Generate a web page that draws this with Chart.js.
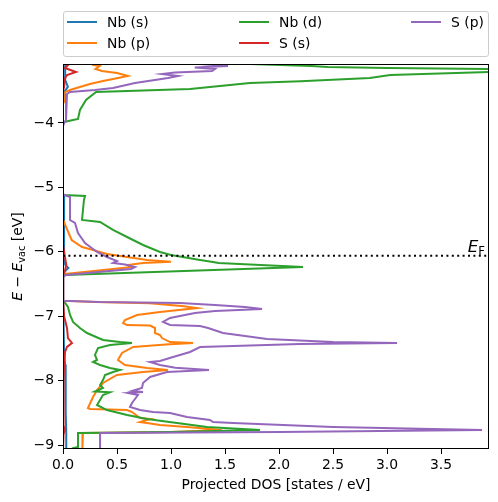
<!DOCTYPE html>
<html>
<head>
<meta charset="utf-8">
<script src="https://cdn.jsdelivr.net/npm/chart.js@4.4.0/dist/chart.umd.min.js"></script>
<style>
  body { margin: 0; background: #fff; }
  #wrap { position: relative; width: 498px; height: 502px; }
  #legend {
    position: absolute; left: 63px; top: 11px; width: 424px; height: 44px;
    border: 1px solid #cccccc; border-radius: 3px; background: rgba(255,255,255,0.8);
    font-family: "DejaVu Sans"; font-size: 13.9px; color: #000;
  }
  .item { position: absolute; height: 18px; width: 160px; }
  .item .line { position: absolute; left: 0; top: 8px; width: 30px; height: 2px; }
  .item .txt { position: absolute; left: 40px; top: 0; line-height: 18px; white-space: nowrap; }
</style>
</head>
<body>
<div id="wrap">
  <canvas id="myChart" width="498" height="502"></canvas>
  <div id="legend"></div>
</div>
<script>
// axis ranges and ticks
const xMax = 3.944, yMin = -9.062, yMax = -3.084;
const eFermi = -6.06;
const xTicks = [0, 0.5, 1, 1.5, 2, 2.5, 3, 3.5];
const yTicks = [-9, -8, -7, -6, -5, -4];

const seriesNames = ["Nb (s)", "Nb (p)", "Nb (d)", "S (s)", "S (p)"];
const seriesColors = ["#1f77b4", "#ff7f0e", "#2ca02c", "#d62728", "#9467bd"];

// projected DOS, pairs of [energy (eV), dos], energy going down
const nbS = [
  [-3.0, 0.02], [-3.084, 0.02], [-3.33, 0.02], [-3.44, 0.045], [-3.52, 0.01], [-3.7, 0.0],
  [-5.10, 0.0], [-5.13, 0.01], [-6.10, 0.01], [-6.2, 0.02], [-6.25, 0.05], [-6.3, 0.02], [-6.36, 0.0],
  [-6.76, 0.0], [-6.78, 0.005], [-7.6, 0.01], [-7.75, 0.02], [-8.0, 0.025], [-8.5, 0.025],
  [-8.8, 0.03], [-9.1, 0.03]
];
const nbP = [
  [-3.0, 0.30], [-3.099, 0.28], [-3.115, 0.34], [-3.161, 0.30], [-3.193, 0.36], [-3.224, 0.50],
  [-3.27, 0.60], [-3.301, 0.51], [-3.348, 0.37], [-3.395, 0.25], [-3.441, 0.157], [-3.488, 0.065],
  [-3.52, 0.02], [-3.64, 0.02], [-3.70, 0.0],
  [-5.50, 0.0], [-5.66, 0.04], [-5.817, 0.08], [-5.925, 0.176], [-5.972, 0.278], [-6.034, 0.407],
  [-6.081, 0.593], [-6.127, 0.778], [-6.155, 1.0], [-6.174, 0.74], [-6.205, 0.60], [-6.236, 0.64],
  [-6.25, 0.55], [-6.345, 0.02], [-6.39, 0.0],
  [-6.76, 0.0], [-6.78, 0.3], [-6.80, 0.8], [-6.84, 1.1], [-6.873, 1.241], [-6.935, 0.898],
  [-6.981, 0.685], [-7.059, 0.574], [-7.106, 0.556], [-7.137, 0.593], [-7.145, 0.806], [-7.183, 0.852],
  [-7.261, 0.852], [-7.292, 0.898], [-7.339, 0.917], [-7.401, 0.991], [-7.416, 1.204], [-7.44, 0.95],
  [-7.478, 0.65], [-7.571, 0.546], [-7.68, 0.509], [-7.758, 0.574], [-7.804, 0.778], [-7.835, 0.972],
  [-7.866, 0.741], [-7.913, 0.50], [-8.037, 0.370], [-8.146, 0.315], [-8.255, 0.278], [-8.425, 0.231],
  [-8.441, 0.25], [-8.457, 0.593], [-8.488, 0.639], [-8.581, 0.713], [-8.596, 0.806], [-8.643, 0.713],
  [-8.658, 0.778], [-8.689, 0.898], [-8.72, 1.148], [-8.767, 1.47], [-8.798, 1.0], [-8.814, 0.185],
  [-9.03, 0.18], [-9.1, 0.17]
];
const nbD = [
  [-3.0, 1.2], [-3.084, 1.73], [-3.115, 2.3], [-3.13, 2.45], [-3.146, 3.0], [-3.161, 3.944],
  [-3.185, 4.6], [-3.208, 3.944], [-3.255, 3.03], [-3.30, 2.84], [-3.35, 2.2], [-3.379, 1.731],
  [-3.472, 1.176], [-3.519, 0.306], [-3.643, 0.213], [-3.798, 0.157], [-3.938, 0.139], [-3.984, 0.01],
  [-4.03, 0.0],
  [-5.10, 0.0], [-5.118, 0.01], [-5.134, 0.204], [-5.196, 0.194], [-5.506, 0.176], [-5.537, 0.343],
  [-5.661, 0.463], [-5.77, 0.593], [-5.894, 0.741], [-6.003, 0.898], [-6.05, 1.0], [-6.127, 1.269],
  [-6.158, 1.389], [-6.174, 1.44], [-6.236, 2.222], [-6.36, 0.02], [-6.39, 0.0],
  [-6.76, 0.0], [-6.795, 0.02], [-6.857, 0.046], [-6.981, 0.065], [-7.09, 0.093], [-7.183, 0.157],
  [-7.261, 0.222], [-7.37, 0.37], [-7.401, 0.528], [-7.416, 0.639], [-7.447, 0.435], [-7.494, 0.324],
  [-7.602, 0.296], [-7.68, 0.315], [-7.711, 0.278], [-7.758, 0.343], [-7.804, 0.435], [-7.835, 0.528],
  [-7.866, 0.463], [-7.913, 0.389], [-7.991, 0.37], [-8.068, 0.343], [-8.115, 0.37], [-8.17, 0.296],
  [-8.18, 0.435], [-8.224, 0.37], [-8.301, 0.343], [-8.379, 0.315], [-8.457, 0.407], [-8.534, 0.593],
  [-8.596, 0.778], [-8.658, 1.056], [-8.72, 1.333], [-8.767, 1.824], [-8.798, 1.0], [-8.814, 0.139],
  [-9.031, 0.139], [-9.05, 0.09], [-9.1, 0.09]
];
const sS = [
  [-3.0, 0.02], [-3.099, 0.046], [-3.146, 0.019], [-3.208, 0.12], [-3.255, 0.037], [-3.301, 0.02],
  [-3.44, 0.01], [-3.5, 0.0],
  [-5.9, 0.0], [-6.0, 0.01], [-6.1, 0.02], [-6.2, 0.03], [-6.28, 0.02], [-6.36, 0.0],
  [-6.76, 0.0], [-6.8, 0.005], [-7.0, 0.01], [-7.183, 0.037], [-7.339, 0.046], [-7.416, 0.083],
  [-7.478, 0.037], [-7.556, 0.019], [-7.76, 0.01], [-8.0, 0.005], [-8.7, 0.005], [-8.767, 0.02],
  [-8.83, 0.005], [-9.1, 0.0]
];
const sP = [
  [-3.0, 1.25], [-3.084, 1.27], [-3.115, 1.528], [-3.138, 1.22], [-3.161, 1.407], [-3.193, 1.38],
  [-3.216, 1.037], [-3.239, 0.917], [-3.27, 1.065], [-3.301, 0.972], [-3.379, 0.667], [-3.457, 0.463],
  [-3.488, 0.296], [-3.519, 0.065], [-3.55, 0.037], [-3.953, 0.028], [-4.0, 0.01], [-4.05, 0.0],
  [-5.10, 0.0], [-5.118, 0.01], [-5.149, 0.065], [-5.506, 0.065], [-5.553, 0.111], [-5.708, 0.139],
  [-5.863, 0.204], [-6.003, 0.315], [-6.081, 0.407], [-6.143, 0.50], [-6.174, 0.463], [-6.197, 0.574],
  [-6.236, 0.667], [-6.267, 0.63], [-6.36, 0.03], [-6.39, 0.0],
  [-6.76, 0.0], [-6.78, 0.34], [-6.795, 1.083], [-6.826, 1.407], [-6.857, 1.685], [-6.888, 1.843],
  [-6.919, 1.407], [-6.95, 1.222], [-7.028, 0.991], [-7.09, 0.926], [-7.137, 0.991], [-7.152, 1.269],
  [-7.183, 1.343], [-7.261, 1.481], [-7.354, 1.889], [-7.401, 2.5], [-7.416, 3.093], [-7.432, 2.194],
  [-7.478, 1.269], [-7.556, 1.176], [-7.634, 1.019], [-7.696, 0.898], [-7.711, 0.806], [-7.758, 0.898],
  [-7.80, 1.04], [-7.835, 1.352], [-7.866, 0.963], [-7.944, 0.806], [-8.037, 0.741], [-8.115, 0.731],
  [-8.161, 0.639], [-8.177, 0.741], [-8.193, 0.602], [-8.224, 0.694], [-8.348, 0.639], [-8.41, 0.62],
  [-8.457, 0.713], [-8.488, 0.833], [-8.503, 0.991], [-8.565, 1.148], [-8.612, 1.361], [-8.643, 1.389],
  [-8.658, 1.574], [-8.72, 2.5], [-8.767, 3.88], [-8.798, 2.0], [-8.814, 0.343], [-9.1, 0.343]
];

const allSeries = [nbS, nbP, nbD, sS, sP];
const FONT = "DejaVu Sans";

let datasets = allSeries.map((s, i) => ({
  label: seriesNames[i],
  data: s.map(p => ({ x: p[1], y: p[0] })),
  borderColor: seriesColors[i],
  borderWidth: 2,
  showLine: true,
  pointRadius: 0,
  tension: 0,
  clip: 0,
  order: 10 - i
}));
datasets.push({
  label: "EF",
  data: [{ x: 0, y: eFermi }, { x: xMax, y: eFermi }],
  borderColor: "#000",
  borderWidth: 2,
  borderDash: [2, 3.4],
  showLine: true,
  pointRadius: 0,
  order: 0
});

// text pieces drawn in a row, used for the math labels
drawPieces = (ctx, pieces, x, y) => {
  let cx = x;
  pieces.forEach(p => {
    ctx.font = p.font;
    ctx.fillText(p.t, cx, y + (p.dy || 0));
    cx += ctx.measureText(p.t).width;
  });
};
piecesWidth = (ctx, pieces) => {
  let w = 0;
  pieces.forEach(p => { ctx.font = p.font; w += ctx.measureText(p.t).width; });
  return w;
};

const framePlugin = {
  id: "frame",
  afterDraw: (chart) => {
    const ctx = chart.ctx;
    const a = chart.chartArea;
    ctx.save();
    ctx.strokeStyle = "#000";
    ctx.lineWidth = 1;
    ctx.strokeRect(a.left + 0.5, a.top + 0.5, a.right - a.left - 1, a.bottom - a.top - 1);

    ctx.fillStyle = "#000";
    ctx.textBaseline = "alphabetic";
    // x label
    ctx.font = "13.9px " + FONT;
    ctx.textAlign = "center";
    ctx.fillText("Projected DOS [states / eV]", (a.left + a.right) / 2, 489);

    // y label
    ctx.textAlign = "left";
    const yl = [
      { t: "E", font: "italic 13.9px " + FONT },
      { t: " \u2212 ", font: "13.9px " + FONT },
      { t: "E", font: "italic 13.9px " + FONT },
      { t: "vac", font: "9.7px " + FONT, dy: 3 },
      { t: " [eV]", font: "13.9px " + FONT }
    ];
    const w = piecesWidth(ctx, yl);
    ctx.translate(22, (a.top + a.bottom) / 2);
    ctx.rotate(-Math.PI / 2);
    drawPieces(ctx, yl, -w / 2, 0);
    ctx.restore();

    // Fermi level label
    ctx.save();
    ctx.fillStyle = "#000";
    const ef = [
      { t: "E", font: "italic 16.7px " + FONT },
      { t: "F", font: "11.7px " + FONT, dy: 3 }
    ];
    const yEF = chart.scales.y.getPixelForValue(eFermi);
    drawPieces(ctx, ef, a.right - 4 - piecesWidth(ctx, ef), yEF - 4);
    ctx.restore();
  }
};

const ctx = document.getElementById("myChart").getContext("2d");
const chart = new Chart(ctx, {
  type: "scatter",
  data: { datasets: datasets },
  plugins: [framePlugin],
  options: {
    responsive: false,
    animation: false,
    devicePixelRatio: 1,
    events: [],
    layout: { padding: { top: 64, right: 9, left: 0, bottom: 0 } },
    plugins: { legend: { display: false }, tooltip: { enabled: false } },
    scales: {
      x: {
        type: "linear", min: 0, max: xMax,
        afterBuildTicks: (s) => { s.ticks = xTicks.map(v => ({ value: v })); },
        afterFit: (s) => { s.height = 53; },
        ticks: {
          callback: (v) => v.toFixed(1), color: "#000", padding: 3,
          autoSkip: false, maxRotation: 0, font: { family: FONT, size: 13.9 }
        },
        grid: { drawOnChartArea: false, tickLength: 5, color: "#000", lineWidth: 1 },
        border: { display: false }
      },
      y: {
        type: "linear", min: yMin, max: yMax,
        afterBuildTicks: (s) => { s.ticks = yTicks.map(v => ({ value: v })); },
        afterFit: (s) => { s.width = 63; },
        ticks: {
          callback: (v) => (v < 0 ? "\u2212" : "") + Math.abs(v), color: "#000", padding: 4,
          autoSkip: false, font: { family: FONT, size: 13.9 }
        },
        grid: { drawOnChartArea: false, tickLength: 5, color: "#000", lineWidth: 1 },
        border: { display: false }
      }
    }
  }
});

// legend, matplotlib style: 3 columns filled column by column
const legendBox = document.getElementById("legend");
const colLeft = [3, 175, 347];
const rowTop = [1, 22];
seriesNames.forEach((name, i) => {
  const col = Math.floor(i / 2), row = i % 2;
  const item = document.createElement("div");
  item.className = "item";
  item.style.left = colLeft[col] + "px";
  item.style.top = rowTop[row] + "px";
  item.innerHTML = '<span class="line" style="background:' + seriesColors[i] + '"></span>' +
    '<span class="txt">' + name + "</span>";
  legendBox.appendChild(item);
});
</script>
</body>
</html>
